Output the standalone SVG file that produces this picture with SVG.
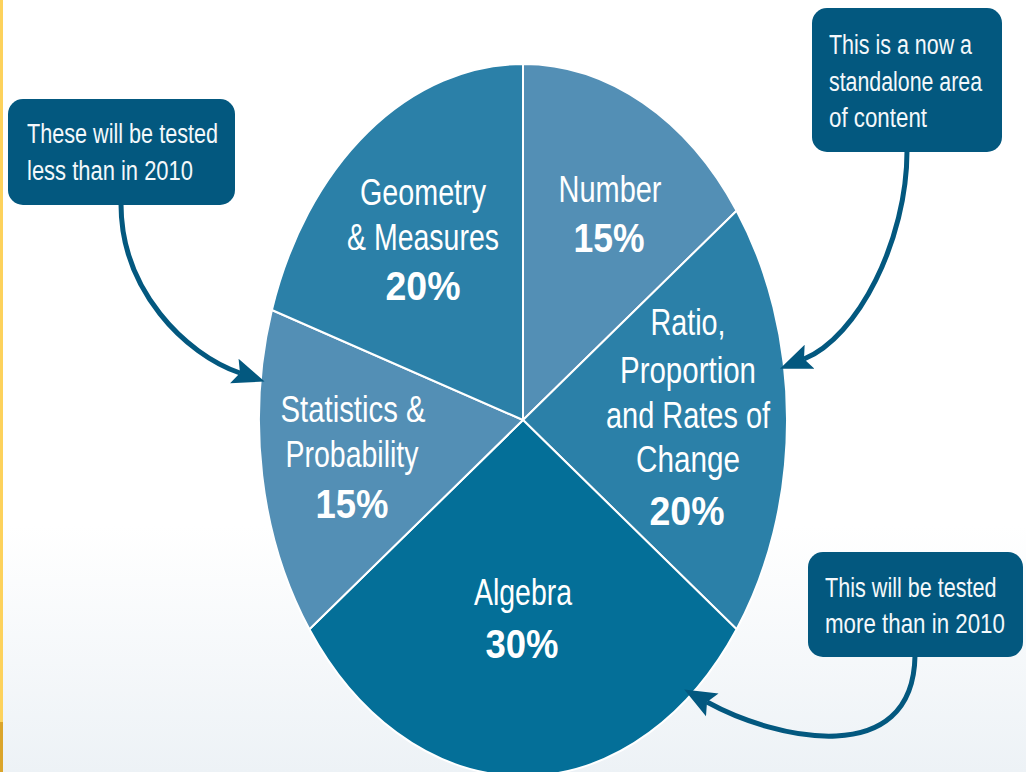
<svg xmlns="http://www.w3.org/2000/svg" width="1026" height="772" viewBox="0 0 1026 772">
  <defs>
    <linearGradient id="bg" x1="0" y1="0" x2="0" y2="1">
      <stop offset="0" stop-color="#ffffff"/>
      <stop offset="0.68" stop-color="#ffffff"/>
      <stop offset="1" stop-color="#edf2f6"/>
    </linearGradient>
    <marker id="arrow" markerUnits="userSpaceOnUse" markerWidth="34" markerHeight="30" viewBox="0 0 34 30" refX="6" refY="15" orient="auto">
      <path d="M0,2 L32,15 L0,28 L6,15 Z" fill="#03587f"/>
    </marker>
    <style>
      .slice { stroke: #ffffff; stroke-width: 2; stroke-linejoin: round; }
      .dark { fill: #2b80a8; }
      .light { fill: #538fb5; }
      .alg { fill: #046f98; }
      .box { fill: #03587f; }
      .lbl { font-family: "Liberation Sans", Arial, sans-serif; font-size: 36px; fill: #ffffff; text-anchor: middle; }
      .pct { font-family: "Liberation Sans", Arial, sans-serif; font-size: 41px; font-weight: bold; fill: #ffffff; text-anchor: middle; }
      .note { font-family: "Liberation Sans", Arial, sans-serif; font-size: 27px; fill: #f4f8fb; }
      .conn { fill: none; stroke: #03587f; stroke-width: 5; marker-end: url(#arrow); }
    </style>
  </defs>

  <rect x="0" y="0" width="1026" height="772" fill="url(#bg)"/>
  <rect x="0" y="0" width="3" height="722" fill="#fdd25c"/>
  <rect x="0" y="722" width="3" height="50" fill="#dba52b"/>

  <g id="slice-number">
    <path class="slice light" d="M523,420 L523,64 A264,356 0 0 1 736.6,210.7 Z"/>
    <text class="lbl" x="610" y="202" textLength="103" lengthAdjust="spacingAndGlyphs">Number</text>
    <text class="pct" x="609" y="252" textLength="71" lengthAdjust="spacingAndGlyphs">15%</text>
  </g>

  <g id="slice-ratio">
    <path class="slice dark" d="M523,420 L736.6,210.7 A264,356 0 0 1 736.6,629.3 Z"/>
    <text class="lbl" x="688" y="335" textLength="75" lengthAdjust="spacingAndGlyphs">Ratio,</text>
    <text class="lbl" x="688" y="383" textLength="136" lengthAdjust="spacingAndGlyphs">Proportion</text>
    <text class="lbl" x="688" y="428" textLength="164" lengthAdjust="spacingAndGlyphs">and Rates of</text>
    <text class="lbl" x="688" y="472" textLength="104" lengthAdjust="spacingAndGlyphs">Change</text>
    <text class="pct" x="687" y="525" textLength="75" lengthAdjust="spacingAndGlyphs">20%</text>
  </g>

  <g id="slice-algebra">
    <path class="slice alg" d="M523,420 L736.6,629.3 A264,356 0 0 1 309.4,629.3 Z"/>
    <text class="lbl" x="523" y="605" textLength="98" lengthAdjust="spacingAndGlyphs">Algebra</text>
    <text class="pct" x="522" y="658" textLength="73" lengthAdjust="spacingAndGlyphs">30%</text>
  </g>

  <g id="slice-statistics">
    <path class="slice light" d="M523,420 L309.4,629.3 A264,356 0 0 1 271.9,310 Z"/>
    <text class="lbl" x="353" y="422" textLength="145" lengthAdjust="spacingAndGlyphs">Statistics &amp;</text>
    <text class="lbl" x="352" y="467" textLength="133" lengthAdjust="spacingAndGlyphs">Probability</text>
    <text class="pct" x="352" y="518" textLength="73" lengthAdjust="spacingAndGlyphs">15%</text>
  </g>

  <g id="slice-geometry">
    <path class="slice dark" d="M523,420 L271.9,310 A264,356 0 0 1 523,64 Z"/>
    <text class="lbl" x="423" y="205" textLength="126" lengthAdjust="spacingAndGlyphs">Geometry</text>
    <text class="lbl" x="423" y="250" textLength="152" lengthAdjust="spacingAndGlyphs">&amp; Measures</text>
    <text class="pct" x="423" y="300" textLength="75" lengthAdjust="spacingAndGlyphs">20%</text>
  </g>

  <g id="callout-less">
    <rect class="box" x="8" y="99" width="227" height="106" rx="15"/>
    <text class="note" x="27" y="143" textLength="191" lengthAdjust="spacingAndGlyphs">These will be tested</text>
    <text class="note" x="27" y="180" textLength="166" lengthAdjust="spacingAndGlyphs">less than in 2010</text>
  </g>

  <g id="callout-standalone">
    <rect class="box" x="812" y="8" width="190" height="144" rx="15"/>
    <text class="note" x="829" y="54" textLength="143" lengthAdjust="spacingAndGlyphs">This is a now a</text>
    <text class="note" x="829" y="91" textLength="153" lengthAdjust="spacingAndGlyphs">standalone area</text>
    <text class="note" x="829" y="127" textLength="98" lengthAdjust="spacingAndGlyphs">of content</text>
  </g>

  <g id="callout-more">
    <rect class="box" x="808" y="552" width="215" height="105" rx="15"/>
    <text class="note" transform="matrix(0.80,0,0,1,825,597)" x="0" y="0">This will be tested</text>
    <text class="note" transform="matrix(0.827,0,0,1,825,633)" x="0" y="0">more than in 2010</text>
  </g>

  <g id="connectors">
    <path class="conn" d="M121,204 C121,290 185,354 240,373"/>
    <path class="conn" d="M907,151 C907,240 858,337 804,359"/>
    <path class="conn" d="M915,656 C913,770 776,740 707,702"/>
  </g>
</svg>
